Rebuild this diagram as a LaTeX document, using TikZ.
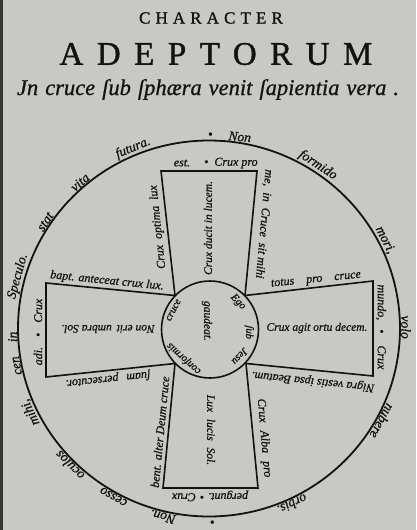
\documentclass[tikz,border=0pt]{standalone}
\usepackage{fontspec}
\setmainfont{Liberation Serif}
\usetikzlibrary{calc}
\definecolor{paper}{RGB}{200,200,197}
\definecolor{inkc}{RGB}{18,18,18}
\begin{document}
\begin{tikzpicture}[x=1pt,y=-1pt,
  inkline/.style={draw=inkc, line width=1.6pt, line join=miter},
  ringtxt/.style={font=\fontsize{13.5}{13.5}\selectfont\itshape\addfontfeature{FakeBold=0.8}, text=inkc, inner sep=0pt, anchor=south},
  innertxt/.style={font=\fontsize{10.5}{10.5}\selectfont\itshape\addfontfeature{FakeBold=0.8}, text=inkc, inner sep=0pt, anchor=north},
  armtxt/.style={font=\fontsize{11.5}{11.5}\selectfont\itshape\addfontfeature{FakeBold=0.7}, text=inkc, inner sep=0pt},
  edgetxt/.style={font=\fontsize{12}{12}\selectfont\itshape\addfontfeature{FakeBold=0.7}, text=inkc, inner sep=0pt}
]
\fill[paper] (0,0) rectangle (416,530);
\useasboundingbox (0,0) rectangle (416,530);
\fill[inkc!85] (0,0) rectangle (3,530);

% titles
\node[text=inkc, inner sep=0pt, font=\fontsize{17}{17}\selectfont\addfontfeature{LetterSpace=30,FakeBold=1.2}] (t1) at (211,18) {CHARACTER};
\node[text=inkc, inner sep=0pt, font=\fontsize{33}{33}\selectfont\addfontfeature{LetterSpace=41,FakeBold=1.2}] (t2) at (216,54) {ADEPTORUM};
\node[text=inkc, inner sep=0pt, anchor=base, font=\fontsize{22.5}{22.5}\selectfont\itshape\addfontfeature{FakeBold=0.8}] (t3) at (208,95) {\spaceskip=7pt Jn cruce ſub ſphæra venit ſapientia vera .};

% outer circle
\coordinate (C) at (209,328.5);
\draw[inkline, line width=1.8pt] (C) ellipse [x radius=191pt, y radius=188pt];

% inner circle
\coordinate (O) at (210,329.5);
\draw[inkline] (O) circle [radius=48.5pt];

% cross
\coordinate (NW) at (175,295.5);
\coordinate (NE) at (245,295.5);
\coordinate (SE) at (246,363.5);
\coordinate (SW) at (175,363.5);
\coordinate (TL) at (161,171);
\coordinate (TR) at (257,171);
\coordinate (LT) at (46,283);
\coordinate (LB) at (46,377);
\coordinate (RT) at (373,281);
\coordinate (RB) at (373,376);
\coordinate (BL) at (163,488);
\coordinate (BR) at (258,488);
\draw[inkline] (NW) -- (TL) -- (TR) -- (NE);
\draw[inkline] (NW) -- (LT) -- (LB) -- (SW);
\draw[inkline] (NE) -- (RT) -- (RB) -- (SE);
\draw[inkline] (SW) -- (BL) -- (BR) -- (SE);

% ring text (outside the great circle, read clockwise)
\node[ringtxt, rotate=-5] (r1) at ($(C)+(84:192pt and 189pt)$) {•\hspace{16pt}Non};
\node[ringtxt, rotate=56.7-90] (r2) at ($(C)+(56.7:192pt and 189pt)$) {formido};
\node[ringtxt, rotate=27-90] (r3) at ($(C)+(27:192pt and 189pt)$) {mori,};
\node[ringtxt, rotate=0.4-90] (r4) at ($(C)+(0.4:192pt and 189pt)$) {volo};
\node[ringtxt, rotate=-28.5-90] (r5) at ($(C)+(-28.5:192pt and 189pt)$) {nubere};
\node[ringtxt, rotate=-65-90] (r6) at ($(C)+(-65:192pt and 189pt)$) {orbis.};
\node[ringtxt, rotate=-89-90] (r7) at ($(C)+(-89:192pt and 189pt)$) {•};
\node[ringtxt, rotate=-103.6-90] (r8) at ($(C)+(-103.6:192pt and 189pt)$) {Non.};
\node[ringtxt, rotate=-119.2-90] (r9) at ($(C)+(-119.2:192pt and 189pt)$) {cesso};
\node[ringtxt, rotate=-135.1-90] (r10) at ($(C)+(-135.1:192pt and 189pt)$) {oculos};
\node[ringtxt, rotate=-154.5-90] (r11) at ($(C)+(-154.5:192pt and 189pt)$) {mihi,};
\node[ringtxt, rotate=-168.9-90] (r12) at ($(C)+(-168.9:192pt and 189pt)$) {cen};
\node[ringtxt, rotate=-177.5-90] (r13) at ($(C)+(-177.5:192pt and 189pt)$) {in};
\node[ringtxt, rotate=164.5-90] (r14) at ($(C)+(164.5:192pt and 189pt)$) {Speculo.};
\node[ringtxt, rotate=146.5-90] (r15) at ($(C)+(146.5:192pt and 189pt)$) {stat};
\node[ringtxt, rotate=131-90] (r16) at ($(C)+(131:192pt and 189pt)$) {vita};
\node[ringtxt, rotate=112.5-90] (r17) at ($(C)+(112.5:192pt and 189pt)$) {futura.};

% texts inside the arms
\node[armtxt, rotate=90] (a1) at (208,228) {Crux ducit in lucem.};
\node[armtxt, rotate=180] (a2) at (108,329) {Non erit \hspace{2pt}umbra Sol.};
\node[armtxt] (a3) at (317,328) {Crux agit ortu decem.};
\node[armtxt, rotate=-90] (a4) at (211,430) {Lux \hspace{4pt}lucis \hspace{4pt}Sol.};

% texts along the outline of the cross
\node[edgetxt, rotate=96] (e1) at (158,227) {Crux \hspace{3pt}optima \hspace{3pt}lux};
\node[edgetxt] (e2) at (182,163) {est.};
\node[edgetxt, anchor=west] (e3) at (204,163) {•\hspace{6pt}Crux pro};
\node[edgetxt, rotate=-95] (e4) at (264,224) {me, \hspace{3pt}in \hspace{3pt}Cruce \hspace{3pt}sit mihi};
\node[edgetxt, rotate=5.8] (e5) at (316,280) {totus\hspace{12pt}pro\hspace{12pt}cruce};
\node[edgetxt, rotate=-90] (e6) at (381,327) {mundo,\hspace{9pt}•\hspace{12pt}Crux};
\node[edgetxt, rotate=174] (e7) at (313,381) {Nigra vestis ipsa Beatum.};
\node[edgetxt, rotate=-85] (e8) at (264,438) {Crux\hspace{8pt}Alba\hspace{8pt}pro};
\node[edgetxt, rotate=180] (e9) at (210,496) {pergunt.\hspace{4pt}•\hspace{4pt}Crux};
\node[edgetxt, rotate=84.5] (e10) at (160,432) {bent. alter Deum cruce};
\node[edgetxt, rotate=186] (e11) at (108,379) {ſuam\hspace{8pt}persecutor.};
\node[edgetxt, rotate=90] (e12) at (38,332) {adi.\hspace{10pt}•\hspace{10pt}Crux};
\node[edgetxt, rotate=-5.8] (e13) at (107,281) {bapt. anteceat crux lux.};

% inner circle text (read clockwise)
\node[innertxt, rotate=44.5-90] (i1) at ($(O)+(44.5:44pt)$) {Ego};
\node[innertxt, rotate=-4-90] (i2) at ($(O)+(-4:44pt)$) {ſub};
\node[innertxt, rotate=-42-90] (i3) at ($(O)+(-42:44pt)$) {Jesu};
\node[innertxt, rotate=-132-90] (i4) at ($(O)+(-132:44pt)$) {conformis};
\node[innertxt, rotate=152-90] (i5) at ($(O)+(152:44pt)$) {cruce};
\node[armtxt, rotate=-90] (c0) at (207,321) {gaudeat.};
\end{tikzpicture}
\end{document}
